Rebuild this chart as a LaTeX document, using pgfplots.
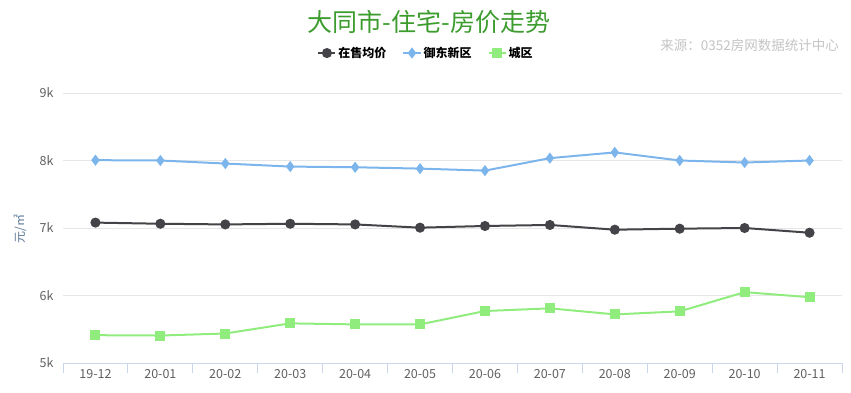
\documentclass[border=0pt]{standalone}
\usepackage{pgfplots}
\pgfplotsset{compat=1.18}
\usepackage{fontspec}
\setmainfont{Noto Sans CJK SC}
\definecolor{serA}{HTML}{434348}
\definecolor{serB}{HTML}{7CB5EC}
\definecolor{serC}{HTML}{90ED7D}
\definecolor{titlegreen}{HTML}{3D9C2E}
\definecolor{ticklab}{HTML}{606060}
\definecolor{axisline}{HTML}{CCD6EB}
\definecolor{gridc}{HTML}{E6E6E6}
\definecolor{srcc}{HTML}{C4C4C4}
\definecolor{ylab}{HTML}{5A7594}
\begin{document}
\begin{tikzpicture}
\useasboundingbox (0,0) rectangle (851pt,392pt);
\begin{axis}[
  at={(63pt,29pt)}, anchor=south west,
  scale only axis, width=779pt, height=270pt,
  xmin=-0.5, xmax=11.5, ymin=5000, ymax=9000,
  axis x line*=bottom, axis y line*=left,
  y axis line style={draw=none},
  x axis line style={color=axisline, line width=1pt},
  xtick={0,...,11},
  xticklabels={19-12,20-01,20-02,20-03,20-04,20-05,20-06,20-07,20-08,20-09,20-10,20-11},
  minor xtick={-0.5,0.5,...,11.5},
  tick align=outside,
  major tick length=0pt,
  minor tick length=10pt,
  minor tick style={color=axisline, line width=1pt},
  ytick={5000,6000,7000,8000,9000},
  yticklabels={5k,6k,7k,8k,9k},
  ymajorgrids,
  major grid style={color=gridc, line width=1pt},
  tick label style={font=\fontsize{12.5}{14}\selectfont, text=ticklab},
  xticklabel style={yshift=-3pt},
  yticklabel style={xshift=-6pt},
  clip=false,
  legend style={at={(0.466,1.148)}, anchor=center, draw=none, fill=none,
    legend columns=3, font=\bfseries\fontsize{12}{14}\selectfont,
    /tikz/every even column/.append style={column sep=14pt}},
  legend cell align=left,
]
\addplot[color=serA, line width=2pt, mark=*, mark size=4pt] coordinates {
(0,7080) (1,7063) (2,7053) (3,7063) (4,7053) (5,7005) (6,7030) (7,7045) (8,6975) (9,6990) (10,7000) (11,6930)};
\addlegendentry{在售均价}
\addplot[color=serB, line width=2pt, mark=diamond*, mark size=4pt] coordinates {
(0,8005) (1,8000) (2,7955) (3,7910) (4,7900) (5,7880) (6,7850) (7,8035) (8,8120) (9,8000) (10,7970) (11,8000)};
\addlegendentry{御东新区}
\addplot[color=serC, line width=2pt, mark=square*, mark size=4pt] coordinates {
(0,5412) (1,5407) (2,5437) (3,5587) (4,5572) (5,5572) (6,5770) (7,5810) (8,5720) (9,5765) (10,6050) (11,5975)};
\addlegendentry{城区}
\end{axis}
\node[text=titlegreen, font=\fontsize{25}{28}\selectfont] at (429pt,370pt) {大同市-住宅-房价走势};
\node[text=srcc, font=\fontsize{13.5}{16}\selectfont, anchor=east, inner sep=0pt] at (839pt,347pt) {来源：0352房网数据统计中心};
\node[text=ylab, font=\fontsize{12}{14}\selectfont, rotate=90] at (20pt,163pt) {元/㎡};
\end{tikzpicture}
\end{document}
